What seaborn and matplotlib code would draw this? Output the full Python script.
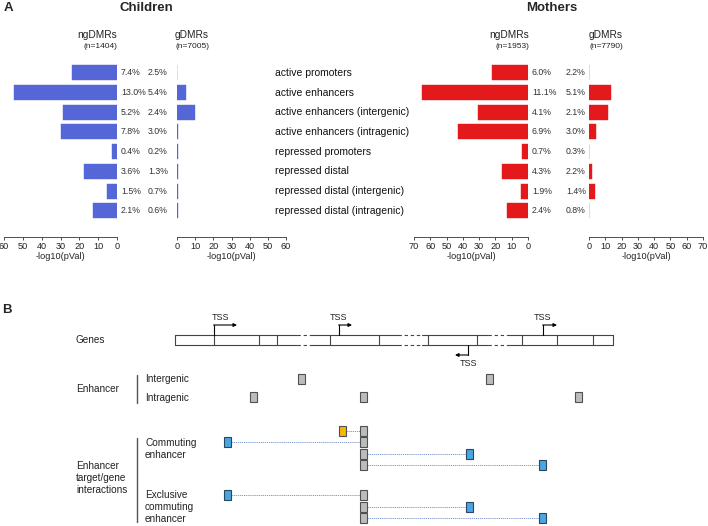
import numpy as np
import pandas as pd
import seaborn as sns
import matplotlib.pyplot as plt
import matplotlib.transforms as mtransforms
from matplotlib.patches import Rectangle

# ---- panel A data ----
categories = ["active promoters", "active enhancers", "active enhancers (intergenic)",
              "active enhancers (intragenic)", "repressed promoters", "repressed distal",
              "repressed distal (intergenic)", "repressed distal (intragenic)"]

children_ng = [24, 54.5, 28.5, 30, 2.7, 17.5, 5.3, 12.5]
children_g = [0, 5, 9.7, 0.6, 0.6, 0.5, 0.7, 0.3]
children_ng_pct = ["7.4%", "13.0%", "5.2%", "7.8%", "0.4%", "3.6%", "1.5%", "2.1%"]
children_g_pct = ["2.5%", "5.4%", "2.4%", "3.0%", "0.2%", "1.3%", "0.7%", "0.6%"]

mothers_ng = [22, 65, 30.5, 43, 3.7, 16, 4.4, 13]
mothers_g = [0, 13.3, 11.7, 4.5, 0.3, 2, 3.5, 0.3]
mothers_ng_pct = ["6.0%", "11.1%", "4.1%", "6.9%", "0.7%", "4.3%", "1.9%", "2.4%"]
mothers_g_pct = ["2.2%", "5.1%", "2.1%", "3.0%", "0.3%", "2.2%", "1.4%", "0.8%"]

children_n = ["(n=1404)", "(n=7005)"]
mothers_n = ["(n=1953)", "(n=7790)"]

# ---- panel B schematic (pixel coordinates of the drawing) ----
gene_dividers = [175, 214, 259, 277, 330, 379, 428, 477, 522, 557, 593, 613]
gene_gaps = [(297, 310), (398, 422), (488, 507)]
tss_forward = [(214, 237), (339, 352), (543, 557)]
tss_reverse = [(468, 455)]
intergenic_x = [301, 489]
intragenic_x = [253, 363, 578]
commuting_links = [(342, 363, 431, "yellow"), (227, 363, 442, "blue"),
                   (469, 363, 454, "blue"), (542, 363, 465, "blue")]
exclusive_links = [(227, 363, 495, "blue"), (469, 363, 507, "blue"), (542, 363, 518, "blue")]

W, H = 708, 526
BLUE = "#5566d6"
RED = "#e3191c"
TXT = "#222222"

sns.set_style("white")
plt.rcParams["font.family"] = ["Liberation Sans", "DejaVu Sans"]

fig = plt.figure(figsize=(W / 100, H / 100), dpi=100)

def px_axes(x0, y0, x1, y1):
    return fig.add_axes([x0 / W, 1 - y1 / H, (x1 - x0) / W, (y1 - y0) / H])

# overlay for free text and the schematic
ov = px_axes(0, 0, W, H)
ov.set_xlim(0, W)
ov.set_ylim(H, 0)
ov.axis("off")

def bar_panel(x0, x1, vals, color, xmax, inverted):
    ax = px_axes(x0, 63, x1, 237)
    df = pd.DataFrame({"cat": categories, "val": vals})
    sns.barplot(data=df, x="val", y="cat", orient="h", color=color,
                width=0.76, saturation=1, ax=ax, edgecolor=color, linewidth=0.3)
    ax.set_ylim(8.33, -0.5)
    ax.set_xlim((xmax, 0) if inverted else (0, xmax))
    ax.set_xticks(np.arange(0, xmax + 1, 10))
    ax.set_yticks([])
    ax.set_ylabel("")
    ax.set_xlabel("-log10(pVal)", fontsize=6.6, labelpad=0.5, color=TXT)
    for s in ["top", "right", "left"]:
        ax.spines[s].set_visible(False)
    ax.spines["bottom"].set_linewidth(0.6)
    ax.spines["bottom"].set_color("#333333")
    ax.tick_params(axis="x", labelsize=6.6, length=2.5, width=0.6, pad=1,
                   bottom=True, color="#333333", labelcolor=TXT)
    ax.patch.set_alpha(0)
    return ax

ax_cn = bar_panel(4, 117, children_ng, BLUE, 60, True)
ax_cg = bar_panel(177, 286, children_g, BLUE, 60, False)
ax_mn = bar_panel(414, 528, mothers_ng, RED, 70, True)
ax_mg = bar_panel(589, 703, mothers_g, RED, 70, False)

for ax, ng_pct, g_pct, goff in [(ax_cn, children_ng_pct, children_g_pct, 31),
                                (ax_mn, mothers_ng_pct, mothers_g_pct, 38)]:
    for i in range(len(categories)):
        ax.annotate(ng_pct[i], xy=(0, i), xytext=(4, 0), textcoords="offset pixels",
                    ha="left", va="center", fontsize=6.3, color="#333333",
                    annotation_clip=False)
        ax.annotate(g_pct[i], xy=(0, i), xytext=(goff, 0), textcoords="offset pixels",
                    ha="left", va="center", fontsize=6.3, color="#333333",
                    annotation_clip=False)

trans = mtransforms.blended_transform_factory(fig.transFigure, ax_cg.transData)
for i, c in enumerate(categories):
    ax_cg.text(275 / W, i, c, transform=trans, ha="left", va="center",
               fontsize=7.5, color="#111111")

# titles and headers
ov.text(8, 8, "A", fontsize=9.5, fontweight="bold", ha="center", va="center")
ov.text(146, 8, "Children", fontsize=9.5, fontweight="bold", ha="center", va="center")
ov.text(552, 8, "Mothers", fontsize=9.5, fontweight="bold", ha="center", va="center")
for xr, xl, ns in [(117, 175, children_n), (529, 589, mothers_n)]:
    ov.text(xr, 35, "ngDMRs", fontsize=7.3, ha="right", va="center", color=TXT)
    ov.text(xr, 47, ns[0], fontsize=6, ha="right", va="center", color=TXT)
    ov.text(xl, 35, "gDMRs", fontsize=7.3, ha="left", va="center", color=TXT)
    ov.text(xl, 47, ns[1], fontsize=6, ha="left", va="center", color=TXT)

# ---- panel B ----
ov.text(7, 310, "B", fontsize=9.5, fontweight="bold", ha="center", va="center")
LC = "#444444"
lw = 0.8
top, bot = 335, 345

xs = [gene_dividers[0]]
for g0, g1 in gene_gaps:
    xs += [g0, g1]
xs.append(gene_dividers[-1])
for k in range(len(xs) - 1):
    ls = "-" if k % 2 == 0 else (0, (3, 2.5))
    for yy in (top, bot):
        ov.plot([xs[k], xs[k + 1]], [yy, yy], color=LC, lw=lw, ls=ls)
for xd in gene_dividers:
    ov.plot([xd, xd], [top, bot], color=LC, lw=lw)

for x0, x1 in tss_forward:
    ov.plot([x0, x0], [top, top - 10], color="black", lw=0.8)
    ov.annotate("", xy=(x1, top - 10), xytext=(x0 - 0.4, top - 10),
                arrowprops=dict(arrowstyle="-|>", color="black", lw=0.8,
                                mutation_scale=5, shrinkA=0, shrinkB=0))
    ov.text(x0 + 6 if x0 < 300 else x0, 318, "TSS", fontsize=6.5, ha="center",
            va="center", color=TXT)
for x0, x1 in tss_reverse:
    ov.plot([x0, x0], [bot, bot + 10], color="black", lw=0.8)
    ov.annotate("", xy=(x1, bot + 10), xytext=(x0 + 0.4, bot + 10),
                arrowprops=dict(arrowstyle="-|>", color="black", lw=0.8,
                                mutation_scale=5, shrinkA=0, shrinkB=0))
    ov.text(x0, 364, "TSS", fontsize=6.5, ha="center", va="center", color=TXT)

FS_B = 7.2
ov.text(75, 340, "Genes", fontsize=FS_B, ha="left", va="center", color=TXT)
ov.text(76, 389, "Enhancer", fontsize=FS_B, ha="left", va="center", color=TXT)
ov.plot([137, 137], [375, 403], color="#555555", lw=1)
ov.text(145, 379, "Intergenic", fontsize=FS_B, ha="left", va="center", color=TXT)
ov.text(145, 398, "Intragenic", fontsize=FS_B, ha="left", va="center", color=TXT)

ov.text(76, 478, "Enhancer\ntarget/gene\ninteractions", fontsize=FS_B, ha="left",
        va="center", linespacing=1.2, color=TXT)
ov.plot([137, 137], [438, 522], color="#555555", lw=1)
ov.text(145, 449, "Commuting\nenhancer", fontsize=FS_B, ha="left", va="center",
        linespacing=1.2, color=TXT)
ov.text(145, 507, "Exclusive\ncommuting\nenhancer", fontsize=FS_B, ha="left",
        va="center", linespacing=1.2, color=TXT)

FACES = {"gray": ("#bcbcbc", "#505050"), "blue": ("#4aa6e2", "#2b4660"),
         "yellow": ("#f4b800", "#505050")}
BW, BH = 7, 10

def box(xc, yc, kind):
    fc, ec = FACES[kind]
    ov.add_patch(Rectangle((xc - BW / 2, yc - BH / 2), BW, BH, facecolor=fc,
                           edgecolor=ec, lw=0.8, zorder=3))

for xc in intergenic_x:
    box(xc, 379, "gray")
for xc in intragenic_x:
    box(xc, 397, "gray")

for links in (commuting_links, exclusive_links):
    for xe, xg, yy, kind in links:
        lo, hi = sorted([xe, xg])
        ov.plot([lo + BW / 2, hi - BW / 2], [yy, yy], color="#6d8cc4", lw=0.6,
                ls=(0, (1.5, 1)), zorder=2)
        box(xg, yy, "gray")
        box(xe, yy, kind)

fig.savefig("out.png", dpi=100)
